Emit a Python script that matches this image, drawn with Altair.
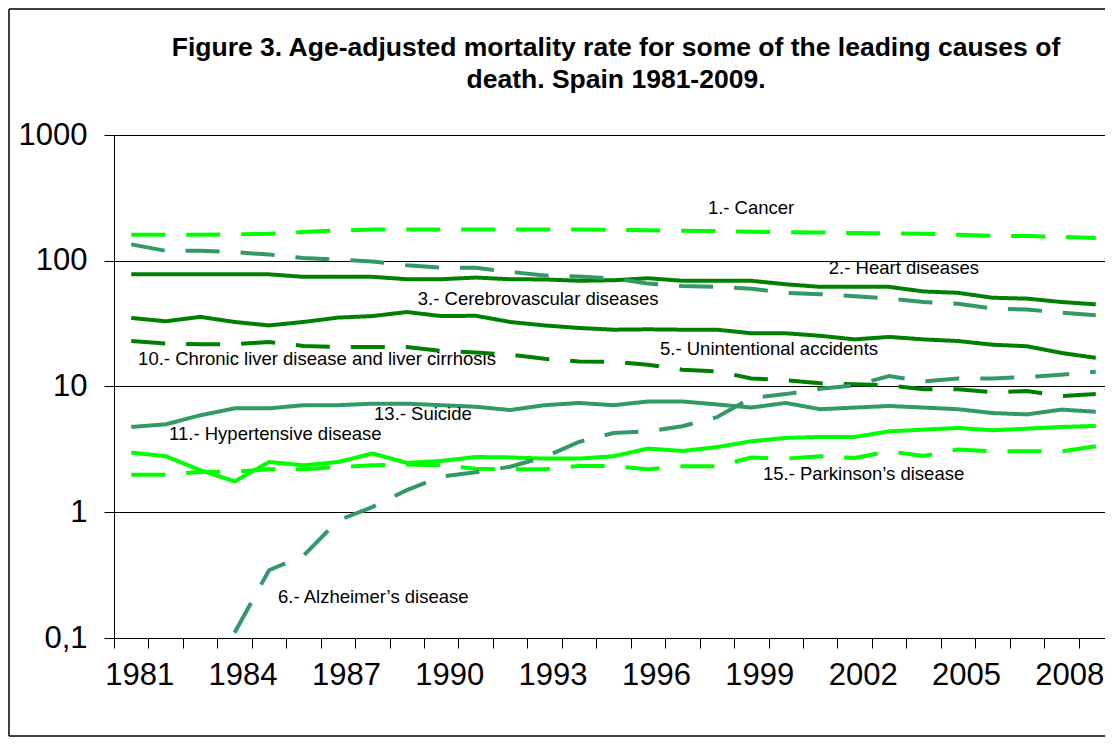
import altair as alt
import pandas as pd

years = list(range(1981, 2010))

cancer = [161, 161, 161, 162, 164, 169, 174, 177, 177, 177, 177, 177, 177, 177, 176,
          175, 173, 172, 170, 169, 168, 166, 165, 164, 161, 158, 157, 155, 152]
cerebrovascular = [135, 120, 120, 117, 112, 105, 102, 98.5, 92, 88.3, 87.8, 81.5, 76.5, 75, 72.3,
                   65.8, 63, 62, 60, 55.6, 54.2, 52.2, 50, 46.9, 45.5, 41.7, 41, 38.6, 36.8]
heart = [78, 78, 78, 78, 78, 74.5, 74.5, 74.5, 71.3, 71.3, 73.5, 71.3, 71, 69.3, 70,
         72.6, 69.3, 69.3, 69.3, 65, 62, 62, 62, 57, 55.6, 50.8, 50, 47, 45]
accidents = [35.1, 33, 35.8, 32.6, 30.6, 32.6, 35.3, 36.3, 39.1, 36.3, 36.5, 32.6, 30.6, 29.2, 28.3,
             28.5, 28.3, 28.3, 26.5, 26.5, 25.3, 23.7, 24.8, 23.7, 23, 21.5, 20.9, 18.5, 16.9]
liver = [23, 22, 21.7, 21.7, 22.6, 21, 20.6, 20.6, 20.6, 19.2, 18.6, 17.9, 16.6, 15.8, 15.7,
         14.9, 13.6, 13.2, 11.6, 11.2, 10.6, 10.4, 10.2, 9.5, 9.5, 9.0, 9.2, 8.4, 8.7]
suicide = [4.77, 5.0, 5.9, 6.7, 6.7, 7.1, 7.1, 7.3, 7.3, 7.1, 6.9, 6.5, 7.1, 7.4, 7.1,
           7.6, 7.6, 7.2, 6.8, 7.4, 6.6, 6.8, 7.0, 6.8, 6.6, 6.15, 6.0, 6.55, 6.3]
hypertensive = [2.98, 2.79, 2.16, 1.76, 2.51, 2.36, 2.51, 2.93, 2.47, 2.56, 2.75, 2.73, 2.67, 2.67, 2.79,
                3.21, 3.07, 3.3, 3.67, 3.9, 3.97, 3.97, 4.4, 4.54, 4.68, 4.49, 4.62, 4.77, 4.86]
parkinson = [1.99, 1.99, 2.09, 2.1, 2.2, 2.2, 2.29, 2.36, 2.4, 2.36, 2.22, 2.2, 2.2, 2.33, 2.33,
             2.2, 2.32, 2.32, 2.72, 2.67, 2.79, 2.7, 3.05, 2.8, 3.15, 3.05, 3.05, 3.05, 3.35]
alzheimer = [None, None, None, 0.11, 0.346, 0.45, 0.86, 1.1, 1.5, 1.92, 2.08, 2.3, 2.75, 3.63, 4.27,
             4.4, 4.83, 5.7, 8.1, 8.7, 9.6, 10.2, 12.1, 11.0, 11.6, 11.6, 11.9, 12.4, 13.1]

series_names = ["Heart diseases", "Cerebrovascular diseases", "Cancer", "Unintentional accidents",
                "Chronic liver disease", "Suicide", "Hypertensive disease",
                "Parkinson's disease", "Alzheimer's disease"]
series_values = [heart, cerebrovascular, cancer, accidents, liver, suicide, hypertensive,
                 parkinson, alzheimer]
series_colors = ["#008000", "#339966", "#00FF00", "#008000", "#008000", "#339966", "#00FF00",
                 "#00FF00", "#339966"]
series_dash = [[1, 0], [34, 21], [34, 21], [1, 0], [34, 21], [1, 0], [1, 0], [34, 21], [34, 21]]

label_texts = ["1.- Cancer", "2.- Heart diseases", "3.- Cerebrovascular diseases",
               "5.- Unintentional accidents", "10.- Chronic liver disease and liver cirrhosis",
               "13.- Suicide", "11.- Hypertensive disease", "15.- Parkinson\u2019s disease",
               "6.- Alzheimer\u2019s disease"]
label_years = [1997.74, 2001.25, 1989.32, 1996.35, 1981.2, 1988.05, 1982.1, 1999.34, 1985.26]
label_values = [262, 87.5, 49.8, 19.9, 16.5, 6.04, 4.19, 2.01, 0.212]

title_lines = ["Figure 3. Age-adjusted mortality rate for some of the leading causes of",
               "death. Spain 1981-2009."]

rows = []
for name, vals in zip(series_names, series_values):
    for y, v in zip(years, vals):
        if v is not None:
            rows.append({"year": y, "value": v, "series": name})
df = pd.DataFrame(rows)

labels_df = pd.DataFrame({"label": label_texts, "lx": label_years, "ly": label_values})

FONT = "Liberation Sans, Arial, sans-serif"

y_scale = alt.Scale(type="log", domain=[0.1, 1000], nice=False)

lines = alt.Chart(df).mark_line(strokeWidth=4, clip=True).encode(
    x=alt.X("year:O", bandPosition=0.5,
            scale=alt.Scale(type="band", paddingInner=0, paddingOuter=0),
            axis=alt.Axis(tickBand="extent", labelAngle=0, grid=False, tickSize=10,
                          tickColor="#000", domainColor="#000", labelColor="#000",
                          labelFont=FONT, labelFontSize=31, labelPadding=12,
                          labelOverlap=False, labelOffset=8, labelBound=False,
                          labelExpr="(datum.value - 1981) % 3 == 0 ? datum.label : ''",
                          title=None)),
    y=alt.Y("value:Q", scale=y_scale,
            axis=alt.Axis(values=[0.1, 1, 10, 100, 1000],
                          labelExpr="datum.value < 0.5 ? '0,1' : format(datum.value, 'd')",
                          grid=True, gridColor="#000", gridWidth=1, tickSize=10,
                          tickColor="#000", domainColor="#000", labelColor="#000",
                          labelFont=FONT, labelFontSize=31, labelPadding=17, title=None)),
    color=alt.Color("series:N", scale=alt.Scale(domain=series_names, range=series_colors),
                    legend=None),
    strokeDash=alt.StrokeDash("series:N",
                              scale=alt.Scale(domain=series_names, range=series_dash),
                              legend=None),
    order=alt.Order("year:O"),
)

texts = alt.Chart(labels_df).mark_text(align="left", baseline="middle", font=FONT,
                                       fontSize=18.5, color="#000").encode(
    x=alt.X("lx:Q", scale=alt.Scale(domain=[1980.5, 2009.5], nice=False, zero=False), axis=None),
    y=alt.Y("ly:Q", scale=y_scale),
    text="label:N",
)

title_df = pd.DataFrame({"t": [title_lines]})
title_mark = alt.Chart(title_df).mark_text(align="center", baseline="alphabetic", font=FONT,
                                           fontSize=26.5, fontWeight="bold", color="#000",
                                           lineHeight=32, clip=False).encode(
    x=alt.value(502), y=alt.value(-79), text="t"
)

one = pd.DataFrame({"a": [0]})
frame_style = dict(color="#000", strokeWidth=1.5, clip=False)
frame_top = alt.Chart(one).mark_rule(**frame_style).encode(
    x=alt.value(-105), x2=alt.value(1100), y=alt.value(-126))
frame_bottom = alt.Chart(one).mark_rule(**frame_style).encode(
    x=alt.value(-105), x2=alt.value(1100), y=alt.value(601))
frame_left = alt.Chart(one).mark_rule(**frame_style).encode(
    x=alt.value(-105), y=alt.value(-126), y2=alt.value(601))

chart = alt.layer(frame_top, frame_bottom, frame_left, lines, texts, title_mark).resolve_scale(
    x="independent").properties(
    width=999, height=503,
    autosize=alt.AutoSizeParams(type="none"),
    padding={"left": 106, "top": 127, "right": -8, "bottom": 100},
).configure_view(fill="#C0C0C0", strokeWidth=0).configure(background="#FFFFFF")

chart.save("out.html", embed_options={"renderer": "svg", "actions": False})
